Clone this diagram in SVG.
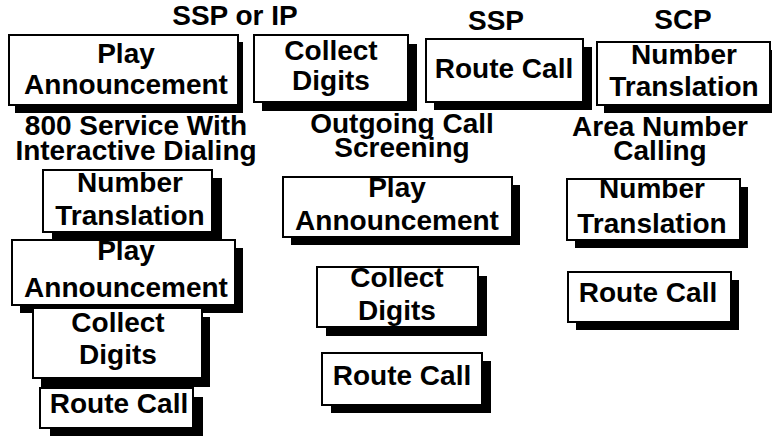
<svg xmlns="http://www.w3.org/2000/svg" width="772" height="436" viewBox="0 0 772 436">
<style>
.sh{fill:#000}
.bx{fill:#fff;stroke:#000;stroke-width:2}
text{font-family:"Liberation Sans",Arial,Helvetica,sans-serif;font-weight:bold;font-size:28px;fill:#000;text-anchor:middle}
</style>
<rect width="772" height="436" fill="#fff"/>
<g id="labels">
<text x="235" y="25">SSP or IP</text>
<text x="496" y="30">SSP</text>
<text x="683" y="29">SCP</text>
<text x="136" y="135">800 Service With</text>
<text x="136" y="160">Interactive Dialing</text>
<text x="402" y="133">Outgoing Call</text>
<text x="402" y="157">Screening</text>
<text x="660" y="136">Area Number</text>
<text x="660" y="160">Calling</text>
</g>
<g id="top-play-announcement">
<rect class="sh" x="15" y="42" width="228" height="71"/>
<rect class="bx" x="9" y="35" width="229" height="70"/>
<text x="126" y="63">Play</text>
<text x="126" y="94">Announcement</text>
</g>
<g id="top-collect-digits">
<rect class="sh" x="262" y="44" width="155" height="67"/>
<rect class="bx" x="254" y="35" width="154" height="67"/>
<text x="331" y="60">Collect</text>
<text x="331" y="90">Digits</text>
</g>
<g id="top-route-call">
<rect class="sh" x="434" y="47" width="158" height="63"/>
<rect class="bx" x="426" y="39" width="157" height="63"/>
<text x="504" y="78">Route Call</text>
</g>
<g id="top-number-translation">
<rect class="sh" x="604" y="50" width="173" height="63"/>
<rect class="bx" x="597" y="42" width="173" height="63"/>
<text x="684" y="64">Number</text>
<text x="684" y="96">Translation</text>
</g>
<g id="left-number-translation">
<rect class="sh" x="52" y="178" width="170" height="62"/>
<rect class="bx" x="43" y="170" width="169" height="62"/>
<text x="130" y="192">Number</text>
<text x="130" y="225">Translation</text>
</g>
<g id="left-play-announcement">
<rect class="sh" x="20" y="248" width="223" height="65"/>
<rect class="bx" x="12" y="240" width="223" height="65"/>
<text x="126" y="260">Play</text>
<text x="126" y="297">Announcement</text>
</g>
<g id="left-collect-digits">
<rect class="sh" x="41" y="317" width="169" height="70"/>
<rect class="bx" x="33" y="308" width="169" height="70"/>
<text x="118" y="332">Collect</text>
<text x="118" y="364">Digits</text>
</g>
<g id="left-route-call">
<rect class="sh" x="50" y="397" width="153" height="40"/>
<rect class="bx" x="40" y="388" width="153" height="40"/>
<text x="119" y="413">Route Call</text>
</g>
<g id="mid-play-announcement">
<rect class="sh" x="291" y="185" width="229" height="60"/>
<rect class="bx" x="283" y="177" width="229" height="60"/>
<text x="397" y="197">Play</text>
<text x="397" y="230">Announcement</text>
</g>
<g id="mid-collect-digits">
<rect class="sh" x="326" y="276" width="161" height="60"/>
<rect class="bx" x="317" y="267" width="161" height="60"/>
<text x="397" y="287">Collect</text>
<text x="397" y="320">Digits</text>
</g>
<g id="mid-route-call">
<rect class="sh" x="331" y="361" width="160" height="52"/>
<rect class="bx" x="322" y="353" width="160" height="52"/>
<text x="402" y="385">Route Call</text>
</g>
<g id="right-number-translation">
<rect class="sh" x="575" y="187" width="173" height="61"/>
<rect class="bx" x="567" y="179" width="173" height="61"/>
<text x="652" y="198">Number</text>
<text x="652" y="233">Translation</text>
</g>
<g id="right-route-call">
<rect class="sh" x="576" y="280" width="163" height="50"/>
<rect class="bx" x="568" y="272" width="163" height="50"/>
<text x="648" y="302">Route Call</text>
</g>
</svg>
